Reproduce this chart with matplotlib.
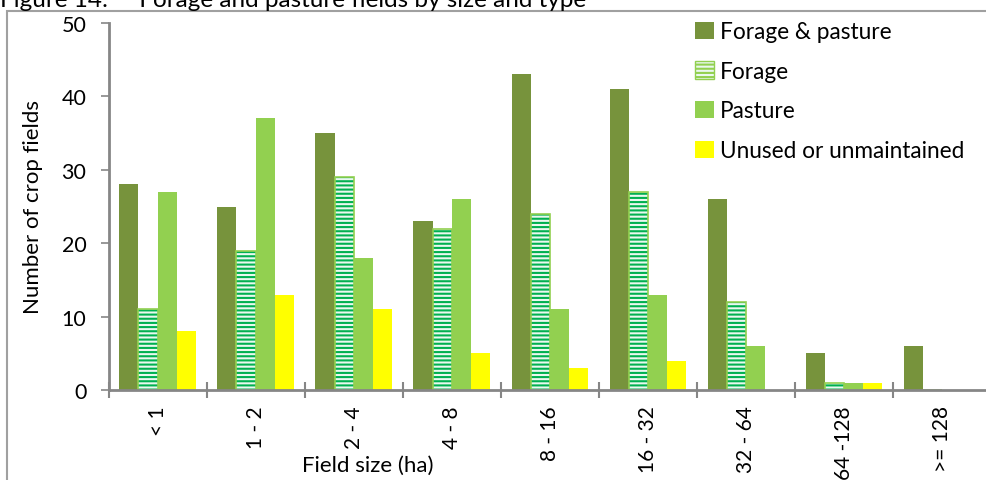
import numpy as np
import matplotlib.pyplot as plt
import matplotlib.patches as patches

plt.rcParams['font.family'] = ['Lato', 'DejaVu Sans']
plt.rcParams['hatch.linewidth'] = 1.5

sizes = ['< 1', '1 - 2', '2 - 4', '4 - 8', '8 - 16', '16 - 32', '32 - 64', '64 -128', '>= 128']
forage_pasture = [28, 25, 35, 23, 43, 41, 26, 5, 6]
forage = [11, 19, 29, 22, 24, 27, 12, 1, 0]
pasture = [27, 37, 18, 26, 11, 13, 6, 1, 0]
unused = [8, 13, 11, 5, 3, 4, 0, 1, 0]

c_fp = '#77933C'
c_pasture = '#92D050'
c_hatch = '#00B050'
c_unused = '#FFFF00'
grey = '#868686'

fig = plt.figure(figsize=(9.87, 4.81), dpi=100)
ax = fig.add_axes([108.5 / 987, 90 / 481, 882.5 / 987, 367 / 481])

x = np.arange(len(sizes))
w = 0.195

ax.bar(x - 1.5 * w, forage_pasture, w, color=c_fp, linewidth=0)
# striped forage bars: hatch drawn in dark green, outline in light green on top
ax.bar(x - 0.5 * w, forage, w, facecolor='#EAF8EF', edgecolor=c_hatch,
       hatch='----', linewidth=0)
ax.bar(x - 0.5 * w, forage, w, facecolor='none', edgecolor=c_pasture, linewidth=1.2)
ax.bar(x + 0.5 * w, pasture, w, color=c_pasture, linewidth=0)
ax.bar(x + 1.5 * w, unused, w, color=c_unused, linewidth=0)

ax.set_xlim(-0.5, len(sizes) - 0.5)
ax.set_ylim(0, 50)
ax.set_yticks(range(0, 51, 10))
ax.set_xticks(x)
ax.set_xticklabels(sizes, rotation=90, fontsize=15)
ax.set_xticks(np.arange(-0.5, len(sizes)), minor=True)
ax.tick_params(axis='x', which='major', length=0, pad=11)
ax.tick_params(axis='x', which='minor', direction='inout', length=12, width=1.5, color=grey)
ax.tick_params(axis='y', direction='out', length=6, width=1.2, color=grey, pad=10, labelsize=15.5)

for s in ['top', 'right']:
    ax.spines[s].set_visible(False)
for s in ['left', 'bottom']:
    ax.spines[s].set_color(grey)
    ax.spines[s].set_linewidth(2)

ax.set_ylabel('Number of crop fields', fontsize=16, labelpad=13)
fig.text(368 / 987, 1 - 466 / 481, 'Field size (ha)', fontsize=16, ha='center', va='center')

handles = [
    patches.Patch(facecolor=c_fp, edgecolor='none'),
    patches.Patch(facecolor='#EAF8EF', edgecolor=c_pasture, hatch='----', linewidth=1),
    patches.Patch(facecolor=c_pasture, edgecolor='none'),
    patches.Patch(facecolor=c_unused, edgecolor='none'),
]
leg = ax.legend(handles, ['Forage & pasture', 'Forage', 'Pasture', 'Unused or unmaintained'],
                loc='upper left', bbox_to_anchor=(0.642, 1.06), frameon=False,
                fontsize=16.3, handlelength=0.8, handleheight=0.8, handletextpad=0.3,
                labelspacing=0.82)
for h in leg.legend_handles[1:2]:
    h.set_edgecolor(c_pasture)

# chart frame and caption above it
fig.patches.append(patches.Rectangle((7 / 987, -0.1), 1.2, (481 - 11.5) / 481 + 0.1,
                                     transform=fig.transFigure, fill=False,
                                     edgecolor='#A0A0A0', linewidth=1.5))
fig.text(0.0, 1 - 7 / 481, 'Figure 14:     Forage and pasture fields by size and type',
         fontsize=17.5, ha='left', va='baseline')

fig.savefig('out.png', dpi=100)
